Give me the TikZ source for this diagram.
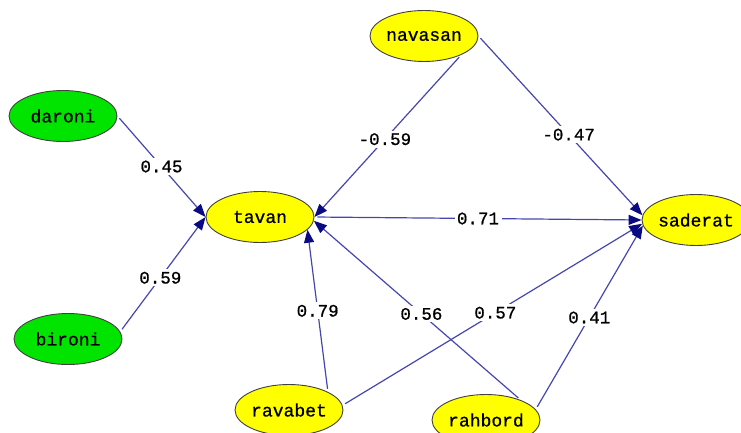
\documentclass[tikz,border=0pt]{standalone}
\usepackage{fontspec}
\usepackage{xcolor}
\usepackage{tikz}
\usetikzlibrary{shapes.geometric,arrows.meta}
\newfontfamily\lisfont[FakeBold=0.8]{Liberation Mono}
\definecolor{latgreen}{RGB}{0,228,0}
\definecolor{latyellow}{RGB}{255,255,0}
\definecolor{edgeblue}{RGB}{70,70,175}
\definecolor{tipblue}{RGB}{10,10,130}

\begin{document}
\begin{tikzpicture}[x=1pt,y=-1pt]
    \useasboundingbox (0,0) rectangle (741,433);
    \tikzstyle{latent}=[ellipse, draw=black!75, line width=0.9pt, minimum width=108pt, minimum height=51pt, inner sep=0pt, font=\lisfont\fontsize{18}{20}\selectfont]
    \tikzstyle{exo}=[latent, fill=latgreen]
    \tikzstyle{endo}=[latent, fill=latyellow]
    \tikzstyle{coef}=[fill=white, inner sep=2.5pt, font=\lisfont\fontsize{17.5}{20}\selectfont]

    \node[exo]  (daroni) at (63,116) {daroni};
    \node[exo]  (bironi) at (68,339) {bironi};
    \node[endo] (tavan) at (260,217) {tavan};
    \node[endo] (navasan) at (424,36) {navasan};
    \node[endo] (saderat) at (696,220) {saderat};
    \node[endo] (ravabet) at (289,410) {ravabet};
    \node[endo] (rahbord) at (486,420) {rahbord};

    \tikzstyle{effect} = [-{Triangle[length=13pt,width=10pt,color=tipblue]}, draw=edgeblue, line width=1.2pt, shorten <=3pt]

          \draw [effect] (daroni.east) -- node[coef] {0.45} (tavan.west);
          \draw [effect] (bironi.8) -- node[coef, pos=0.47] {0.59} (tavan.west);

          \draw [effect] (navasan.-27) -- node[coef, pos=0.52] {-0.59} (tavan.east);
          \draw [effect] (navasan.east) -- node[coef, pos=0.55] {-0.47} (saderat.175);
          \draw [effect] (tavan.east) -- node[coef] {0.71} (saderat.west);

          \draw [effect] (ravabet.25) -- node[coef] {0.79} (tavan.-15);
          \draw [effect] (ravabet.5) -- node[coef, pos=0.51] {0.57} (saderat.184);
          \draw [effect] (rahbord.30) -- node[coef, pos=0.48] {0.56} (tavan.-4);
          \draw [effect] (rahbord.12) -- node[coef] {0.41} (saderat.186);
  \end{tikzpicture}
\end{document}
